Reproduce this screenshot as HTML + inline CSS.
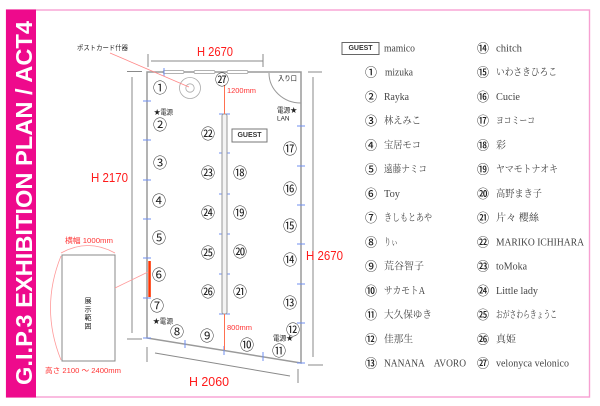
<!DOCTYPE html>
<html><head><meta charset="utf-8"><style>
html,body{margin:0;padding:0;background:#fff;width:600px;height:406px;overflow:hidden}
svg{display:block}
.n{font-family:"Noto Sans CJK JP","Liberation Sans",sans-serif;font-size:14px;fill:#222;text-anchor:middle;dominant-baseline:central}
.ln{font-family:"Noto Sans CJK JP","Liberation Sans",sans-serif;font-size:12px;font-weight:500;fill:#222;text-anchor:middle;dominant-baseline:central}
.sm{font-family:"Liberation Sans","Noto Sans CJK JP",sans-serif;font-size:6.8px;fill:#222}
.vt{font-family:"Noto Sans CJK JP",sans-serif;font-size:7px;fill:#222;text-anchor:middle}
.red{font-family:"Liberation Sans",sans-serif;font-size:12.5px;fill:#ff1a1a}
.rs{font-family:"Liberation Sans","Noto Sans CJK JP",sans-serif;font-size:7.5px;fill:#f33}
.nm{font-family:"Liberation Serif","Noto Serif CJK SC",serif;font-size:10px;fill:#444}
.g{font-family:"Liberation Sans",sans-serif;font-weight:bold;font-size:7px;fill:#333;text-anchor:middle;dominant-baseline:central}
</style></head><body>
<svg width="600" height="406" viewBox="0 0 600 406" xmlns="http://www.w3.org/2000/svg">
<!-- frame -->
<rect x="6.5" y="10" width="583" height="387" fill="none" stroke="#f7a0d2" stroke-width="1.4"/>
<rect x="6" y="9.5" width="30" height="388" fill="#ee0a8c"/>
<text transform="translate(32,385) rotate(-90)" font-family="Liberation Sans, sans-serif" font-weight="bold" font-size="23.5" fill="#fff" textLength="364" lengthAdjust="spacingAndGlyphs">G.I.P.3 EXHIBITION PLAN / ACT4</text>

<!-- dimension lines -->
<g stroke="#8a8a8a" stroke-width="1" fill="none">
<path d="M148 54 V67 M151 61 H263 M263 54 V67"/>
<path d="M127 71.5 H142 M132 77 V333 M127 339 H142"/>
<path d="M308 72 H322 M313 77 V357 M308 365 H323"/>
<path d="M147 347 V362 M155 353 L290 376 M298 369 V383"/>
</g>

<!-- room walls -->
<path d="M147 72 H301 V363 L147 338 Z" fill="none" stroke="#9a9a9a" stroke-width="1.5"/>
<!-- windows -->
<g fill="#fff" stroke="#999" stroke-width="0.8">
<rect x="163" y="70.5" width="21" height="3" rx="1.5"/>
<rect x="194" y="70.5" width="21" height="3" rx="1.5"/>
<rect x="227" y="70.5" width="21" height="3" rx="1.5"/>
</g>
<!-- door -->
<path d="M269 73 A32 30 0 0 0 301 103" fill="none" stroke="#999" stroke-width="1"/>

<!-- blue ticks -->
<g stroke="#6f8ff0" stroke-width="1">
<path d="M164 68 V76"/>
<path d="M143 101 H151 M143 140 H151 M143 180 H151 M143 219 H151 M143 258 H151 M143 298 H151 M143 338 H151"/>
<path d="M297 126 H305 M297 166 H305 M297 205 H305 M297 244 H305 M297 284 H305 M297 323 H305 M297 363 H305"/>
<path d="M219 114 H230 M219 153 H230 M219 194 H230 M219 234 H230 M219 274 H230 M219 314 H230"/>
<path d="M185 340 V348 M224 346 V355 M263 352 V361"/>
</g>

<!-- partition -->
<rect x="222" y="114" width="5" height="200" rx="2" fill="#f4f4f4" stroke="#999" stroke-width="1"/>
<path d="M224.5 85 V114 M224.5 314 V350" stroke="#ff7050" stroke-width="1"/>

<!-- orange bar -->
<rect x="148.3" y="261" width="2.5" height="36" fill="#ff3300"/>

<!-- postcard stand -->
<circle cx="190" cy="88" r="10.5" fill="none" stroke="#aaa" stroke-width="0.8"/>
<circle cx="190" cy="88" r="4.2" fill="none" stroke="#aaa" stroke-width="0.8"/>
<path d="M110 53 L189 87" stroke="#f88" stroke-width="0.8"/>
<text class="sm" x="77" y="50" textLength="51" lengthAdjust="spacingAndGlyphs">ポストカード什器</text>

<!-- display area -->
<rect x="62" y="255" width="53" height="106" fill="#fff" stroke="#888" stroke-width="1"/>
<path d="M61 253 Q88 238 115 253" fill="none" stroke="#f99" stroke-width="0.8"/>
<path d="M61 256 Q40 308 61 360" fill="none" stroke="#f99" stroke-width="0.8"/>
<path d="M115 288 L148 272" stroke="#f99" stroke-width="0.8"/>
<text class="vt" x="88" y="303">展</text>
<text class="vt" x="88" y="311.5">示</text>
<text class="vt" x="88" y="320">範</text>
<text class="vt" x="88" y="328.5">囲</text>

<!-- red labels -->
<text class="red" x="197" y="56" textLength="36" lengthAdjust="spacingAndGlyphs">H 2670</text>
<text class="red" x="91" y="182" textLength="37" lengthAdjust="spacingAndGlyphs">H 2170</text>
<text class="red" x="306" y="260" textLength="37" lengthAdjust="spacingAndGlyphs">H 2670</text>
<text class="red" x="189" y="386" textLength="40" lengthAdjust="spacingAndGlyphs">H 2060</text>
<text class="rs" x="227" y="93" textLength="29" lengthAdjust="spacingAndGlyphs">1200mm</text>
<text class="rs" x="227" y="330" textLength="25" lengthAdjust="spacingAndGlyphs">800mm</text>
<text class="rs" x="65" y="243" textLength="48" lengthAdjust="spacingAndGlyphs">横幅 1000mm</text>
<text class="rs" x="45" y="373" textLength="76" lengthAdjust="spacingAndGlyphs">高さ 2100 〜 2400mm</text>

<!-- misc labels -->
<text class="sm" x="278" y="80.5" textLength="19" lengthAdjust="spacingAndGlyphs">入り口</text>
<text class="sm" x="154" y="114.5" textLength="19" lengthAdjust="spacingAndGlyphs">★電源</text>
<text class="sm" x="153" y="323.5" textLength="20" lengthAdjust="spacingAndGlyphs">★電源</text>
<text class="sm" x="273" y="340.5" textLength="20" lengthAdjust="spacingAndGlyphs">電源★</text>
<text class="sm" x="277" y="112.5" textLength="20" lengthAdjust="spacingAndGlyphs">電源★</text>
<text class="sm" x="277" y="120.5" textLength="12.5" lengthAdjust="spacingAndGlyphs">LAN</text>

<!-- guest box plan -->
<rect x="232" y="129" width="35" height="13" fill="#fff" stroke="#777" stroke-width="1"/>
<text class="g" x="249.5" y="135.7">GUEST</text>

<!-- numbers in plan -->
<text class="n" x="160" y="88">①</text>
<text class="n" x="160" y="125">②</text>
<text class="n" x="160" y="163">③</text>
<text class="n" x="159" y="201">④</text>
<text class="n" x="159" y="238">⑤</text>
<text class="n" x="159" y="275">⑥</text>
<text class="n" x="157" y="306">⑦</text>
<text class="n" x="177" y="332">⑧</text>
<text class="n" x="207" y="336">⑨</text>
<text class="n" x="247" y="345">⑩</text>
<text class="n" x="279" y="351">⑪</text>
<text class="n" x="293" y="330">⑫</text>
<text class="n" x="290" y="303">⑬</text>
<text class="n" x="290" y="260">⑭</text>
<text class="n" x="290" y="226">⑮</text>
<text class="n" x="290" y="189">⑯</text>
<text class="n" x="290" y="149">⑰</text>
<text class="n" x="240" y="173">⑱</text>
<text class="n" x="240" y="213">⑲</text>
<text class="n" x="240" y="252">⑳</text>
<text class="n" x="240" y="292">㉑</text>
<text class="n" x="208" y="134">㉒</text>
<text class="n" x="208" y="173">㉓</text>
<text class="n" x="208" y="213">㉔</text>
<text class="n" x="208" y="253">㉕</text>
<text class="n" x="208" y="292">㉖</text>
<text class="n" x="222" y="80">㉗</text>

<!-- list -->
<rect x="342" y="42.5" width="37" height="12" fill="#fff" stroke="#666" stroke-width="1"/>
<text class="g" x="360.5" y="48.7">GUEST</text>
<text class="nm" x="384" y="51.5" textLength="31" lengthAdjust="spacingAndGlyphs">mamico</text>

<g>
<text class="ln" x="371" y="72.2">①</text><text class="nm" x="385" y="75.7" textLength="28" lengthAdjust="spacingAndGlyphs">mizuka</text>
<text class="ln" x="371" y="96.5">②</text><text class="nm" x="384" y="100" textLength="25" lengthAdjust="spacingAndGlyphs">Rayka</text>
<text class="ln" x="371" y="120.7">③</text><text class="nm" x="384" y="124.2" textLength="37" lengthAdjust="spacingAndGlyphs">林えみこ</text>
<text class="ln" x="371" y="144.9">④</text><text class="nm" x="384" y="148.4" textLength="37" lengthAdjust="spacingAndGlyphs">宝居モコ</text>
<text class="ln" x="371" y="169.2">⑤</text><text class="nm" x="384" y="172.7" textLength="43" lengthAdjust="spacingAndGlyphs">遠藤ナミコ</text>
<text class="ln" x="371" y="193.4">⑥</text><text class="nm" x="384" y="196.9" textLength="16" lengthAdjust="spacingAndGlyphs">Toy</text>
<text class="ln" x="371" y="217.6">⑦</text><text class="nm" x="384" y="221.1" textLength="48" lengthAdjust="spacingAndGlyphs">きしもとあや</text>
<text class="ln" x="371" y="241.8">⑧</text><text class="nm" x="384" y="245.3" textLength="14" lengthAdjust="spacingAndGlyphs">りぃ</text>
<text class="ln" x="371" y="266.1">⑨</text><text class="nm" x="384" y="269.6" textLength="40" lengthAdjust="spacingAndGlyphs">荒谷智子</text>
<text class="ln" x="371" y="290.3">⑩</text><text class="nm" x="384" y="293.8" textLength="41" lengthAdjust="spacingAndGlyphs">サカモトA</text>
<text class="ln" x="371" y="314.5">⑪</text><text class="nm" x="384" y="318" textLength="48" lengthAdjust="spacingAndGlyphs">大久保ゆき</text>
<text class="ln" x="371" y="338.8">⑫</text><text class="nm" x="384" y="342.3" textLength="29" lengthAdjust="spacingAndGlyphs">佳那生</text>
<text class="ln" x="371" y="363">⑬</text><text class="nm" x="384" y="366.5" textLength="82" lengthAdjust="spacingAndGlyphs">NANANA　AVORO</text>

<text class="ln" x="483" y="48">⑭</text><text class="nm" x="496" y="51.5" textLength="26" lengthAdjust="spacingAndGlyphs">chitch</text>
<text class="ln" x="483" y="72.2">⑮</text><text class="nm" x="496" y="75.7" textLength="61" lengthAdjust="spacingAndGlyphs">いわさきひろこ</text>
<text class="ln" x="483" y="96.5">⑯</text><text class="nm" x="496" y="100" textLength="24" lengthAdjust="spacingAndGlyphs">Cucie</text>
<text class="ln" x="483" y="120.7">⑰</text><text class="nm" x="496" y="124.2" textLength="39" lengthAdjust="spacingAndGlyphs">ヨコミーコ</text>
<text class="ln" x="483" y="144.9">⑱</text><text class="nm" x="496" y="148.4" textLength="10" lengthAdjust="spacingAndGlyphs">彩</text>
<text class="ln" x="483" y="169.2">⑲</text><text class="nm" x="496" y="172.7" textLength="62" lengthAdjust="spacingAndGlyphs">ヤマモトナオキ</text>
<text class="ln" x="483" y="193.4">⑳</text><text class="nm" x="496" y="196.9" textLength="46" lengthAdjust="spacingAndGlyphs">高野まき子</text>
<text class="ln" x="483" y="217.6">㉑</text><text class="nm" x="496" y="221.1" textLength="43" lengthAdjust="spacingAndGlyphs">片々 櫻絲</text>
<text class="ln" x="483" y="241.8">㉒</text><text class="nm" x="496" y="245.3" textLength="88" lengthAdjust="spacingAndGlyphs">MARIKO ICHIHARA</text>
<text class="ln" x="483" y="266.1">㉓</text><text class="nm" x="496" y="269.6" textLength="31" lengthAdjust="spacingAndGlyphs">toMoka</text>
<text class="ln" x="483" y="290.3">㉔</text><text class="nm" x="496" y="293.8" textLength="42" lengthAdjust="spacingAndGlyphs">Little lady</text>
<text class="ln" x="483" y="314.5">㉕</text><text class="nm" x="496" y="318" textLength="61" lengthAdjust="spacingAndGlyphs">おがさわらきょうこ</text>
<text class="ln" x="483" y="338.8">㉖</text><text class="nm" x="496" y="342.3" textLength="20" lengthAdjust="spacingAndGlyphs">真姫</text>
<text class="ln" x="483" y="363">㉗</text><text class="nm" x="496" y="366.5" textLength="73" lengthAdjust="spacingAndGlyphs">velonyca velonico</text>
</g>
</svg>
</body></html>
